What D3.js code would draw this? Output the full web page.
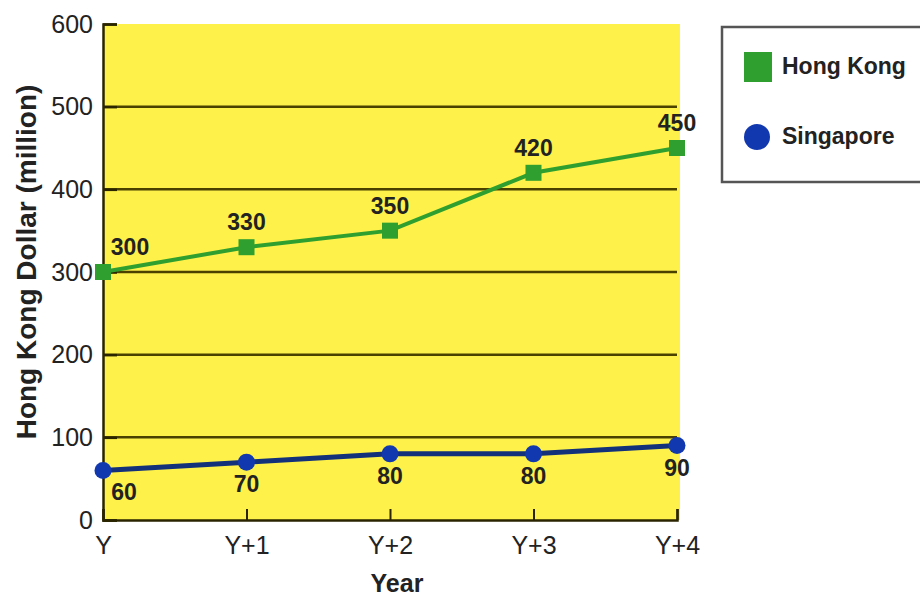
<!DOCTYPE html>
<html>
<head>
<meta charset="utf-8">
<script src="https://cdn.jsdelivr.net/npm/d3@7"></script>
<style>
  body { margin: 0; background: #fff; }
  svg { display: block; font-family: "Liberation Sans", Arial, sans-serif; }
</style>
</head>
<body>
<svg id="chart" width="920" height="598"></svg>
<script>
var years = ["Y", "Y+1", "Y+2", "Y+3", "Y+4"];
var hongKong = [300, 330, 350, 420, 450];
var singapore = [60, 70, 80, 80, 90];
var yTicks = [0, 100, 200, 300, 400, 500, 600];

var margin = { top: 24, left: 103 },
    width = 574,
    height = 496;

var svg = d3.select("#chart");
var chart = svg.append("g")
    .attr("transform", "translate(" + margin.left + "," + margin.top + ")");

var x = d3.scalePoint().domain(years).range([0, width]);
var y = d3.scaleLinear().domain([0, 600]).range([height, 0]);

// yellow plot background
chart.append("rect")
    .attr("x", 0).attr("y", 0)
    .attr("width", width + 3).attr("height", height)
    .attr("fill", "#fdf14a");

// gridlines
chart.selectAll("line.grid")
    .data(yTicks.filter(function(d) { return d > 0 && d < 600; }))
    .enter().append("line")
    .attr("class", "grid")
    .attr("x1", 0).attr("x2", width)
    .attr("y1", function(d) { return y(d); })
    .attr("y2", function(d) { return y(d); })
    .attr("stroke", "#4a4000")
    .attr("stroke-width", 2.5);

var yAxis = d3.axisLeft(y).tickValues(yTicks).tickSize(-14).tickPadding(10);
var gy = chart.append("g").call(yAxis);
gy.select(".domain").attr("stroke", "#2a2400").attr("stroke-width", 2.5);
gy.selectAll(".tick line").attr("stroke", "#2a2400").attr("stroke-width", 2.5);
gy.selectAll(".tick text").attr("font-size", 25).attr("fill", "#222")
    .attr("font-family", "Liberation Sans, Arial, sans-serif");

var xAxis = d3.axisBottom(x).tickSize(-11).tickPadding(16);
var gx = chart.append("g")
    .attr("transform", "translate(0," + height + ")")
    .call(xAxis);
gx.select(".domain").attr("stroke", "#2a2400").attr("stroke-width", 2.5);
gx.selectAll(".tick line").attr("stroke", "#2a2400").attr("stroke-width", 2);
gx.selectAll(".tick text").attr("font-size", 25).attr("fill", "#222")
    .attr("font-family", "Liberation Sans, Arial, sans-serif");

// lines
var line = d3.line()
    .x(function(d, i) { return x(years[i]); })
    .y(function(d) { return y(d); });

chart.append("path").datum(hongKong)
    .attr("d", line).attr("fill", "none")
    .attr("stroke", "#2f9f2f").attr("stroke-width", 4);

chart.append("path").datum(singapore)
    .attr("d", line).attr("fill", "none")
    .attr("stroke", "#13307a").attr("stroke-width", 5);

// markers
chart.selectAll("rect.hk")
    .data(hongKong)
    .enter().append("rect")
    .attr("class", "hk")
    .attr("x", function(d, i) { return x(years[i]) - 8; })
    .attr("y", function(d) { return y(d) - 8; })
    .attr("width", 16).attr("height", 16)
    .attr("fill", "#2f9f2f");

chart.selectAll("circle.sg")
    .data(singapore)
    .enter().append("circle")
    .attr("class", "sg")
    .attr("cx", function(d, i) { return x(years[i]); })
    .attr("cy", function(d) { return y(d); })
    .attr("r", 8.5)
    .attr("fill", "#1238b0");

// value labels
chart.selectAll("text.hkl")
    .data(hongKong)
    .enter().append("text")
    .attr("class", "hkl")
    .attr("x", function(d, i) { return x(years[i]) + (i === 0 ? 27 : 0); })
    .attr("y", function(d) { return y(d) - 17; })
    .attr("text-anchor", "middle")
    .attr("font-size", 23).attr("font-weight", "bold").attr("fill", "#222")
    .text(function(d) { return d; });

chart.selectAll("text.sgl")
    .data(singapore)
    .enter().append("text")
    .attr("class", "sgl")
    .attr("x", function(d, i) { return x(years[i]) + (i === 0 ? 21 : 0); })
    .attr("y", function(d) { return y(d) + 30; })
    .attr("text-anchor", "middle")
    .attr("font-size", 23).attr("font-weight", "bold").attr("fill", "#222")
    .text(function(d) { return d; });

// axis titles
svg.append("text")
    .attr("transform", "translate(36,262) rotate(-90)")
    .attr("text-anchor", "middle")
    .attr("font-size", 28).attr("font-weight", "bold").attr("fill", "#222")
    .text("Hong Kong Dollar (million)");

svg.append("text")
    .attr("x", 397).attr("y", 592)
    .attr("text-anchor", "middle")
    .attr("font-size", 25).attr("font-weight", "bold").attr("fill", "#222")
    .text("Year");

// legend
var legend = svg.append("g");
legend.append("rect")
    .attr("x", 722).attr("y", 27).attr("width", 210).attr("height", 155)
    .attr("fill", "#fff").attr("stroke", "#555").attr("stroke-width", 2.5);
legend.append("rect")
    .attr("x", 744).attr("y", 52).attr("width", 28).attr("height", 30)
    .attr("fill", "#2f9f2f");
legend.append("circle")
    .attr("cx", 757).attr("cy", 137).attr("r", 13)
    .attr("fill", "#1238b0");
legend.append("text")
    .attr("x", 782).attr("y", 74)
    .attr("font-size", 23).attr("font-weight", "bold").attr("fill", "#222")
    .text("Hong Kong");
legend.append("text")
    .attr("x", 782).attr("y", 144)
    .attr("font-size", 23).attr("font-weight", "bold").attr("fill", "#222")
    .text("Singapore");
</script>
</body>
</html>
